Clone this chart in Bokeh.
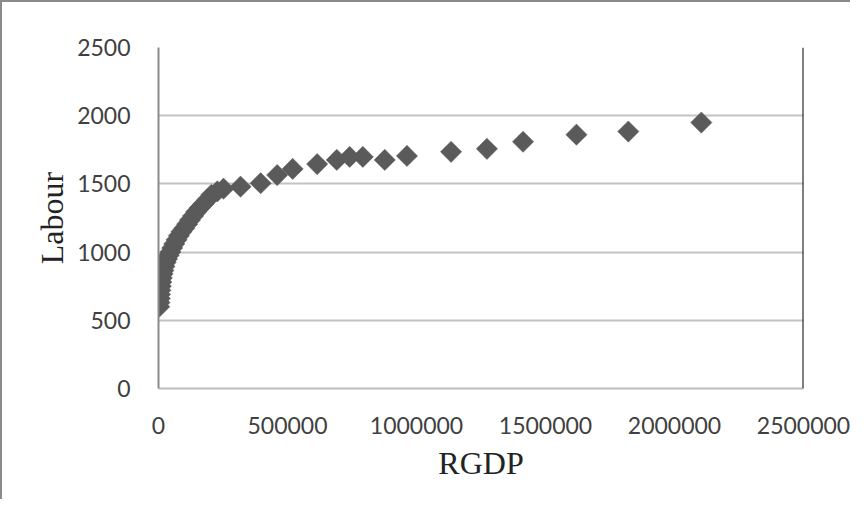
import math
from bokeh.plotting import figure
from bokeh.models import Range1d, FixedTicker, BasicTickFormatter, Span, ColumnDataSource
from bokeh.embed import file_html
from bokeh.resources import INLINE

# data
rgdp = [3000, 4000, 5000, 6000, 7500, 9000, 11000, 13000, 16000, 19000,
        23000, 28000, 33000, 39000, 46000, 53000, 61000, 70000, 79000, 89000,
        100000, 111000, 122000, 134000, 146000, 160000, 175000, 190000, 205000, 228000,
        252000, 318000, 396000, 460000, 520000, 615000, 691000, 741000, 792000, 877000,
        963000, 1134000, 1273000, 1413000, 1620000, 1821000, 2104000]
labour = [600, 630, 660, 690, 720, 750, 780, 810, 840, 865,
          895, 925, 950, 975, 1000, 1030, 1060, 1090, 1120, 1150,
          1175, 1205, 1235, 1265, 1295, 1325, 1355, 1385, 1420, 1445,
          1465, 1480, 1505, 1565, 1610, 1645, 1676, 1698, 1698, 1676,
          1705, 1735, 1757, 1809, 1861, 1884, 1950]
x_ticks = [0, 500000, 1000000, 1500000, 2000000, 2500000]
y_ticks = [0, 500, 1000, 1500, 2000, 2500]
x_title = "RGDP"
y_title = "Labour"

src = ColumnDataSource(dict(x=rgdp, y=labour))

p = figure(width=850, height=499, output_backend="svg", toolbar_location=None,
           x_range=Range1d(0, 2500000), y_range=Range1d(0, 2500),
           min_border_left=156, min_border_right=49, min_border_top=45, min_border_bottom=113)
p.styles = {"border-left": "2px solid #8a8a8a", "border-top": "2px solid #8a8a8a"}
p.outline_line_color = None
p.background_fill_color = "white"

p.scatter("x", "y", source=src, marker="square", angle=math.pi / 4, size=15,
          fill_color="#5a5a5a", line_color="#5a5a5a", line_width=0.5)

for ax in (p.xaxis[0], p.yaxis[0]):
    ax.major_tick_line_color = None
    ax.minor_tick_line_color = None
    ax.major_label_text_font = "Lato"
    ax.major_label_text_font_size = "23px"
    ax.major_label_text_color = "#404040"
    ax.axis_label_text_font = "Liberation Serif"
    ax.axis_label_text_font_size = "32px"
    ax.axis_label_text_font_style = "normal"
    ax.axis_label_text_color = "#222222"
    ax.axis_line_width = 2

p.xaxis[0].ticker = FixedTicker(ticks=x_ticks)
p.xaxis[0].formatter = BasicTickFormatter(use_scientific=False)
p.xaxis[0].axis_line_color = "#bdbdbd"
p.xaxis[0].major_label_standoff = 22
p.xaxis[0].axis_label = x_title
p.xaxis[0].axis_label_standoff = 8

p.yaxis[0].ticker = FixedTicker(ticks=y_ticks)
p.yaxis[0].axis_line_color = "#8a8a8a"
p.yaxis[0].major_label_standoff = 22
p.yaxis[0].axis_label = y_title
p.yaxis[0].axis_label_standoff = 4

p.xgrid.grid_line_color = None
p.ygrid.grid_line_color = "#c4c4c4"
p.ygrid.grid_line_width = 2
p.ygrid.ticker = FixedTicker(ticks=y_ticks)

p.add_layout(Span(location=2500000, dimension="height", line_color="black", line_width=2))

open("out.html", "w").write(file_html(p, INLINE))
